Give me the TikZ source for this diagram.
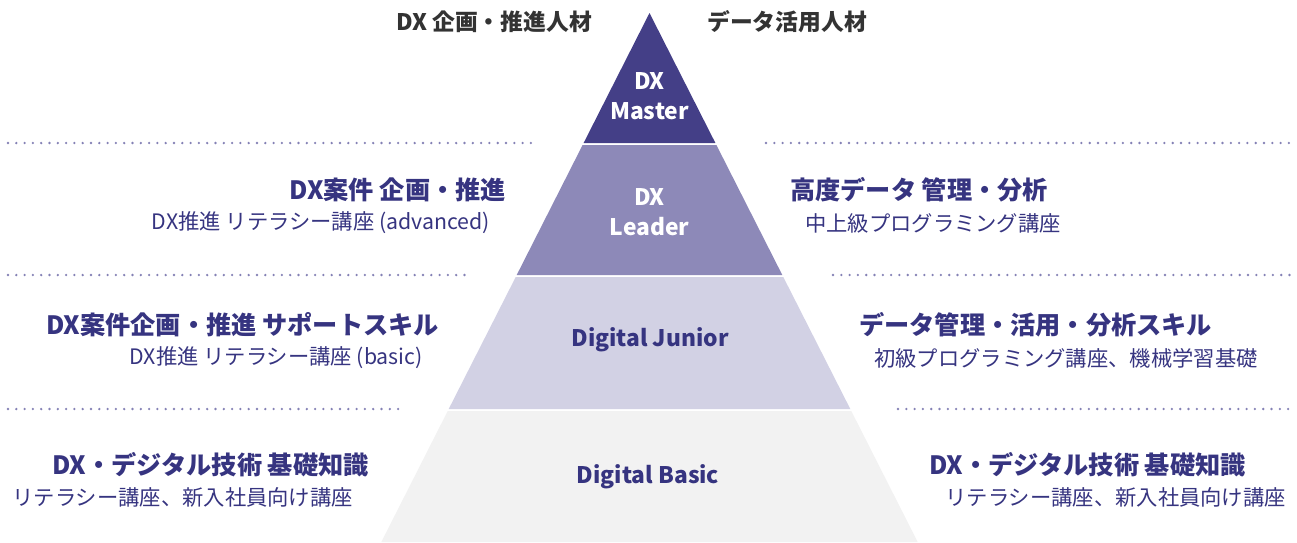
\documentclass[tikz,border=0pt]{standalone}
\usepackage{fontspec}
\setmainfont{Noto Sans CJK JP}
\definecolor{cmaster}{HTML}{443F87}
\definecolor{cleader}{HTML}{8D89B8}
\definecolor{cjunior}{HTML}{D2D1E4}
\definecolor{cbasic}{HTML}{F2F2F2}
\definecolor{cnavy}{HTML}{363480}
\definecolor{cgray}{HTML}{333333}
\definecolor{cdots}{HTML}{8481B5}
\tikzset{
  tiertext/.style={font=\fontsize{22.8}{29.5}\selectfont\bfseries, align=center, inner sep=0pt},
  headtext/.style={font=\fontsize{25.2}{29}\selectfont\bfseries, text=cnavy, inner sep=0pt},
  subtext/.style={font=\fontsize{21.3}{26}\selectfont, text=cnavy, inner sep=0pt},
  toptext/.style={font=\fontsize{22.8}{27}\selectfont\bfseries, text=cgray, inner sep=0pt},
  dotline/.style={draw=cdots, line width=2.6pt, line cap=round, dash pattern=on 0pt off 8.3pt}
}
\begin{document}
\begin{tikzpicture}[x=1pt,y=-1pt]
\useasboundingbox (0,0) rectangle (1297,542);
% pyramid tiers (center 649.5, apex y=13, slope 0.507)
\fill[cmaster] (649.5,13) -- (715.4,143) -- (583.6,143) -- cycle;
\fill[cleader] (582.6,145) -- (716.4,145) -- (782.3,275) -- (516.7,275) -- cycle;
\fill[cjunior] (515.7,277) -- (783.3,277) -- (850.3,409) -- (448.7,409) -- cycle;
\fill[cbasic] (447.7,411) -- (851.3,411) -- (917.7,542) -- (381.3,542) -- cycle;
% dotted separators
\coordinate (l1a) at (8,143); \coordinate (l1b) at (533,143);
\coordinate (r1a) at (766,143); \coordinate (r1b) at (1290,143);
\coordinate (l2a) at (8,275); \coordinate (l2b) at (470,275);
\coordinate (r2a) at (833,275); \coordinate (r2b) at (1290,275);
\coordinate (l3a) at (8,409); \coordinate (l3b) at (402,409);
\coordinate (r3a) at (898,409); \coordinate (r3b) at (1290,409);
\draw[dotline] (l1a) -- (l1b);
\draw[dotline] (r1a) -- (r1b);
\draw[dotline] (l2a) -- (l2b);
\draw[dotline] (r2a) -- (r2b);
\draw[dotline] (l3a) -- (l3b);
\draw[dotline] (r3a) -- (r3b);
% top labels
\node[toptext] (topl) at (494,22) {DX 企画・推進人材};
\node[toptext] (topr) at (787,22) {データ活用人材};
% tier labels
\node[tiertext, text=white] (master) at (649.5,96) {DX\\Master};
\node[tiertext, text=white] (leader) at (649.5,212) {DX\\Leader};
\node[tiertext, text=cnavy] (junior) at (650,340) {Digital Junior};
\node[tiertext, text=cnavy] (basic) at (648,477) {Digital Basic};
% leader side texts
\node[headtext, anchor=east] (l2h) at (506,190) {DX案件 企画・推進};
\node[subtext, anchor=east] (l2s) at (490,223) {DX推進 リテラシー講座 (advanced)};
\node[headtext, anchor=west] (r2h) at (790,190) {高度データ 管理・分析};
\node[subtext, anchor=west] (r2s) at (805,223) {中上級プログラミング講座};
% junior side texts
\node[headtext, anchor=east] (l3h) at (439,325) {DX案件企画・推進 サポートスキル};
\node[subtext, anchor=east] (l3s) at (423,358) {DX推進 リテラシー講座 (basic)};
\node[headtext, anchor=west] (r3h) at (859,325) {データ管理・活用・分析スキル};
\node[subtext, anchor=west] (r3s) at (874,358) {初級プログラミング講座、機械学習基礎};
% basic side texts
\node[headtext, anchor=east] (l4h) at (369,465) {DX・デジタル技術 基礎知識};
\node[subtext, anchor=east] (l4s) at (353,497) {リテラシー講座、新入社員向け講座};
\node[headtext, anchor=east] (r4h) at (1246,465) {DX・デジタル技術 基礎知識};
\node[subtext, anchor=east] (r4s) at (1286,497) {リテラシー講座、新入社員向け講座};
\end{tikzpicture}
\end{document}
